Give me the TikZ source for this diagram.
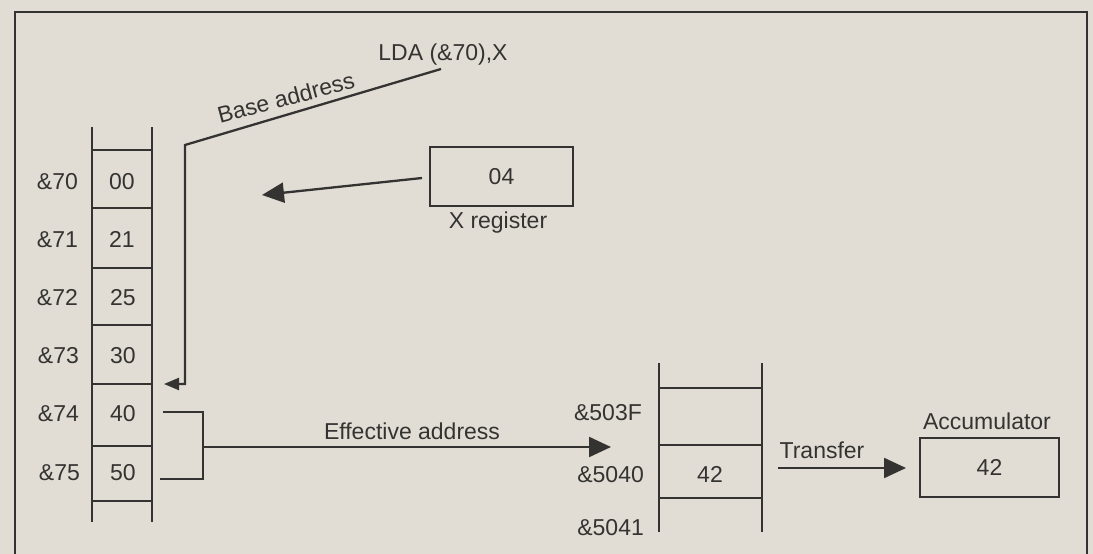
\documentclass[tikz,border=0pt]{standalone}
\usepackage{fontspec}
\setmainfont{Liberation Sans}
\usetikzlibrary{arrows.meta}
\definecolor{paper}{HTML}{E1DDD5}
\definecolor{ink}{HTML}{353331}
\begin{document}
\begin{tikzpicture}[x=1pt,y=-1pt,
  line width=2.3pt, draw=ink, ink,
  txt/.style={inner sep=0pt, text height=16pt, text depth=0pt, font=\fontsize{23}{26}\selectfont, text=ink},
  regbox/.style={draw=ink, line width=2.3pt, rectangle, inner sep=0pt, font=\fontsize{23}{26}\selectfont, text=ink},
  bigtip/.style={-{Triangle[length=22pt,width=20pt]}},
  smalltip/.style={-{Triangle[length=15pt,width=12pt]}}
]
\useasboundingbox (0,0) rectangle (1093,554);
\fill[paper] (0,0) rectangle (1093,554);
% outer frame
\draw (15,554) -- (15,12) -- (1087,12) -- (1087,554);

% left memory column
\draw (92,127) -- (92,522);
\draw (152,127) -- (152,522);
\foreach \yy in {150,208,268,325,384,446,501} \draw (92,\yy) -- (152,\yy);
\node[txt,anchor=east] (a70) at (79,181) {\&70};
\node[txt,anchor=east] (a71) at (79,239) {\&71};
\node[txt,anchor=east] (a72) at (79,297) {\&72};
\node[txt,anchor=east] (a73) at (80,355) {\&73};
\node[txt,anchor=east] (a74) at (80,413) {\&74};
\node[txt,anchor=east] (a75) at (81,472) {\&75};
\node[txt] (v70) at (122,181) {00};
\node[txt] (v71) at (122,239) {21};
\node[txt] (v72) at (123,297) {25};
\node[txt] (v73) at (123,355) {30};
\node[txt] (v74) at (123,413) {40};
\node[txt] (v75) at (123,472) {50};

% instruction and base address line
\node[txt] (lda) at (443,52) {LDA (\&70),X};
\coordinate (ldaend) at (441,69);
\coordinate (bend) at (185,145);
\coordinate (bend2) at (185,384);
\coordinate (c74) at (164,384);
\draw[smalltip] (ldaend) -- (bend) -- (bend2) -- (c74);
\node[txt, rotate=15] (base) at (286,98) {Base address};

% X register
\node[regbox, minimum width=143pt, minimum height=59pt] (xreg) at (501.5,176.5) {04};
\node[txt] (xlab) at (498,220) {X register};
\coordinate (xtip) at (262,195);
\draw[bigtip] (422,178) -- (xtip);

% bracket and effective address
\coordinate (b1) at (163,412);
\coordinate (b2) at (203,412);
\coordinate (b3) at (203,479);
\coordinate (b4) at (160,479);
\coordinate (bm) at (203,447);
\coordinate (etip) at (611,447);
\draw (b1) -- (b2) -- (b3) -- (b4);
\draw[bigtip] (bm) -- (etip);
\node[txt] (eff) at (412,431) {Effective address};

% right memory column
\draw (659,363) -- (659,532);
\draw (762,363) -- (762,532);
\foreach \yy in {388,445,498} \draw (659,\yy) -- (762,\yy);
\node[txt,anchor=east] (r3f) at (643,412) {\&503F};
\node[txt,anchor=east] (r40) at (645,474) {\&5040};
\node[txt,anchor=east] (r41) at (645,527) {\&5041};
\node[txt] (rv40) at (710,474) {42};

% transfer and accumulator
\node[regbox, minimum width=139pt, minimum height=59pt] (acc) at (989.5,467.5) {42};
\node[txt] (acclab) at (987,421) {Accumulator};
\coordinate (tstart) at (778,468);
\coordinate (ttip) at (906,468);
\draw[bigtip] (tstart) -- (ttip);
\node[txt] (tlab) at (822,450) {Transfer};
\end{tikzpicture}
\end{document}
